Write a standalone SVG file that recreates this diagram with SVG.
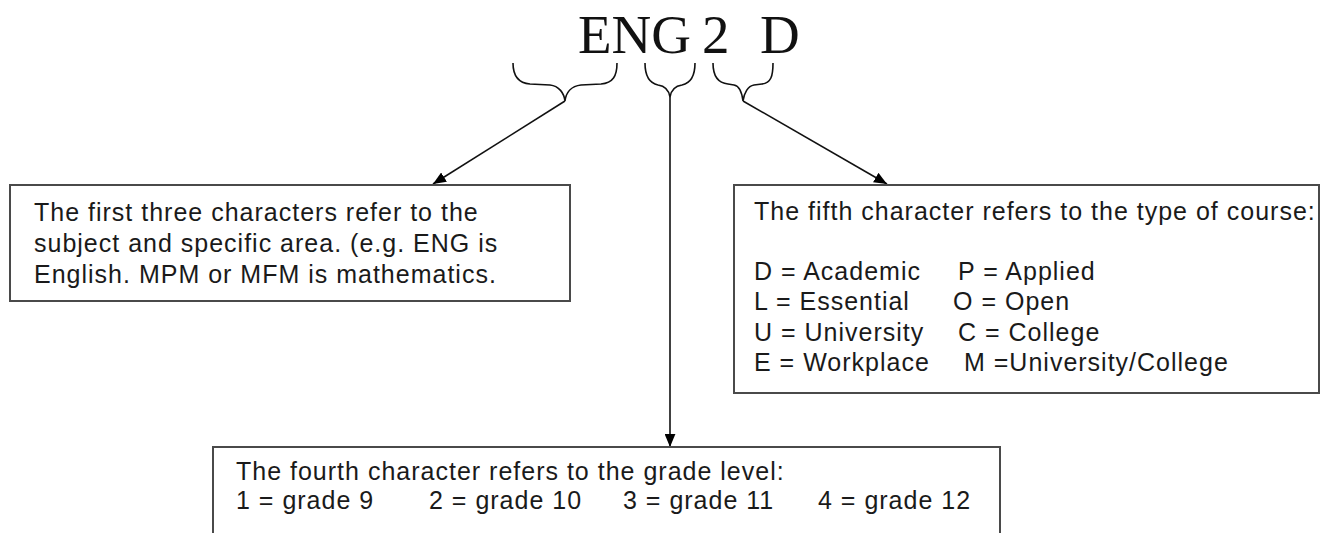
<svg xmlns="http://www.w3.org/2000/svg" width="1323" height="533" viewBox="0 0 1323 533">
<style>
.box{fill:#fff;stroke:#4a4a4a;stroke-width:2}
.t{font-family:"Liberation Sans",Arial,sans-serif;font-size:25px;letter-spacing:1px;fill:#1a1a1a}
.title{font-family:"Liberation Serif","Times New Roman",serif;font-size:55px;fill:#111}
.brace{fill:none;stroke:#111;stroke-width:1.6}
.conn{fill:none;stroke:#111;stroke-width:1.6}
</style>
<defs>
<marker id="ah" viewBox="0 0 12 10" refX="12" refY="5" markerWidth="13" markerHeight="11" markerUnits="userSpaceOnUse" orient="auto">
<path d="M0,0 L12,5 L0,10 Z" fill="#000"/>
</marker>
</defs>
<rect width="1323" height="533" fill="#fff"/>
<g id="title">
<text class="title" x="578" y="53">ENG</text>
<text class="title" x="702" y="53">2</text>
<text class="title" x="760" y="53">D</text>
</g>
<g id="braces">
<path class="brace" d="M513,63 C513,76 518,83 530,84 L550,85 C559,86 564,93 565,101 C566,93 571,86 581,85 L601,84 C613,83 617,76 617,63"/>
<path class="brace" d="M645,63 C645,76 649,83 658,85 C665,86 669,91 670,97 C671,91 675,86 682,85 C691,83 695,76 695,63"/>
<path class="brace" d="M713,63 C713,76 718,83 728,84 L734,85 C740,86 742,93 743,101 C744,93 748,86 754,85 L762,84 C771,83 773,76 773,63"/>
</g>
<g id="connectors">
<line class="conn" x1="565" y1="101" x2="433" y2="184" marker-end="url(#ah)"/>
<line class="conn" x1="670" y1="97" x2="670" y2="447" marker-end="url(#ah)"/>
<line class="conn" x1="743" y1="101" x2="887" y2="184" marker-end="url(#ah)"/>
</g>
<g id="box-subject">
<rect class="box" x="10" y="185" width="560" height="116"/>
<text class="t" x="34" y="221">The first three characters refer to the</text>
<text class="t" x="34" y="252">subject and specific area. (e.g. ENG is</text>
<text class="t" x="34" y="283">English. MPM or MFM is mathematics.</text>
</g>
<g id="box-course">
<rect class="box" x="734" y="185" width="585" height="208"/>
<text class="t" x="754" y="220">The fifth character refers to the type of course:</text>
<text class="t" x="754" y="280">D = Academic</text>
<text class="t" x="958" y="280">P = Applied</text>
<text class="t" x="754" y="310">L = Essential</text>
<text class="t" x="953" y="310">O = Open</text>
<text class="t" x="754" y="341">U = University</text>
<text class="t" x="958" y="341">C = College</text>
<text class="t" x="754" y="371">E = Workplace</text>
<text class="t" x="964" y="371">M =University/College</text>
</g>
<g id="box-grade">
<rect class="box" x="213" y="447" width="787" height="100"/>
<text class="t" x="236" y="480">The fourth character refers to the grade level:</text>
<text class="t" x="236" y="509">1 = grade 9</text>
<text class="t" x="429" y="509">2 = grade 10</text>
<text class="t" x="623" y="509">3 = grade 11</text>
<text class="t" x="818" y="509">4 = grade 12</text>
</g>
</svg>
